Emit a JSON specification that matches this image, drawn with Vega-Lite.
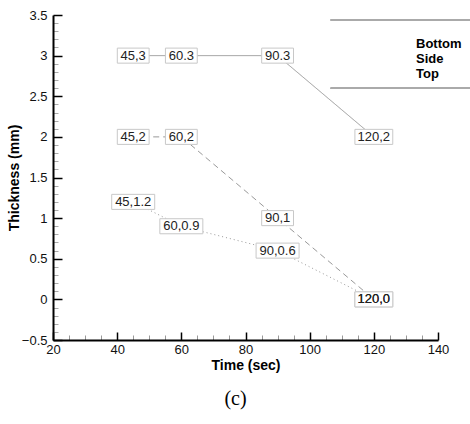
{
  "$schema": "https://vega.github.io/schema/vega-lite/v6.json",
  "width": 385,
  "height": 325,
  "autosize": {"type": "none"},
  "padding": {"left": 53, "top": 15, "right": 32, "bottom": 84},
  "background": "white",
  "config": {
    "view": {"stroke": null},
    "font": "Liberation Sans",
    "axis": {"grid": false}
  },
  "title": {
    "text": "(c)",
    "orient": "bottom",
    "font": "Liberation Serif",
    "fontSize": 20,
    "fontWeight": "normal",
    "color": "black",
    "offset": 17,
    "dx": -10
  },
  "data": {
    "values": [
      {"series": "Bottom", "time": 45, "thickness": 3, "label": "45,3"},
      {"series": "Bottom", "time": 60, "thickness": 3, "label": "60.3"},
      {"series": "Bottom", "time": 90, "thickness": 3, "label": "90.3"},
      {"series": "Bottom", "time": 120, "thickness": 2, "label": "120,2"},
      {"series": "Side", "time": 45, "thickness": 2, "label": "45,2"},
      {"series": "Side", "time": 60, "thickness": 2, "label": "60,2"},
      {"series": "Side", "time": 90, "thickness": 1, "label": "90,1"},
      {"series": "Side", "time": 120, "thickness": 0, "label": "120,0"},
      {"series": "Top", "time": 45, "thickness": 1.2, "label": "45,1.2"},
      {"series": "Top", "time": 60, "thickness": 0.9, "label": "60,0.9"},
      {"series": "Top", "time": 90, "thickness": 0.6, "label": "90,0.6"},
      {"series": "Top", "time": 120, "thickness": 0, "label": "120,0"}
    ]
  },
  "encoding": {
    "x": {
      "field": "time",
      "type": "quantitative",
      "scale": {"domain": [20, 140], "nice": false, "zero": false},
      "axis": {
        "title": "Time (sec)",
        "titleFont": "Liberation Sans",
        "titleFontSize": 14,
        "titleFontWeight": "bold",
        "titleColor": "black",
        "titlePadding": 2,
        "values": [20,25,30,35,40,45,50,55,60,65,70,75,80,85,90,95,100,105,110,115,120,125,130,135,140],
        "format": "~g",
        "labelExpr": "datum.value % 20 === 0 ? datum.label : ''",
        "labelFontSize": 13,
        "labelColor": "#111",
        "labelPadding": 11,
        "labelFlush": false,
        "domainColor": "black",
        "domainWidth": 2,
        "tickSize": {"condition": {"test": "datum.value % 20 === 0", "value": -8}, "value": -5},
        "tickColor": {"condition": {"test": "datum.value % 20 === 0", "value": "black"}, "value": "#999"},
        "tickWidth": {"condition": {"test": "datum.value % 20 === 0", "value": 1.5}, "value": 1}
      }
    },
    "y": {
      "field": "thickness",
      "type": "quantitative",
      "scale": {"domain": [-0.5, 3.5], "nice": false, "zero": false},
      "axis": {
        "title": "Thickness (mm)",
        "titleFont": "Liberation Sans",
        "titleFontSize": 14,
        "titleFontWeight": "bold",
        "titleColor": "black",
        "titlePadding": 0,
        "values": [-0.5,-0.4,-0.3,-0.2,-0.1,0,0.1,0.2,0.3,0.4,0.5,0.6,0.7,0.8,0.9,1,1.1,1.2,1.3,1.4,1.5,1.6,1.7,1.8,1.9,2,2.1,2.2,2.3,2.4,2.5,2.6,2.7,2.8,2.9,3,3.1,3.2,3.3,3.4,3.5],
        "format": "~g",
        "labelExpr": "abs(round(datum.value * 10) % 5) === 0 ? datum.label : ''",
        "labelFontSize": 13,
        "labelColor": "#111",
        "labelPadding": 15,
        "labelFlush": false,
        "domainColor": "black",
        "domainWidth": 2,
        "tickSize": {"condition": {"test": "abs(round(datum.value * 10) % 5) === 0", "value": -9}, "value": -5},
        "tickColor": {"condition": {"test": "abs(round(datum.value * 10) % 5) === 0", "value": "black"}, "value": "#aaa"},
        "tickWidth": {"condition": {"test": "abs(round(datum.value * 10) % 5) === 0", "value": 1.5}, "value": 1}
      }
    }
  },
  "layer": [
    {
      "mark": {"type": "line", "color": "#999", "strokeWidth": 1},
      "encoding": {
        "detail": {"field": "series"},
        "strokeDash": {
          "field": "series",
          "type": "nominal",
          "scale": {"domain": ["Bottom", "Side", "Top"], "range": [[1, 0], [6, 4], [1, 3]]},
          "legend": {
            "title": null,
            "orient": "none",
            "legendX": 350,
            "legendY": 22,
            "symbolType": "stroke",
            "symbolSize": 0,
            "symbolStrokeWidth": 0,
            "symbolOpacity": 0,
            "labelOffset": 0,
            "labelFont": "Liberation Sans",
            "labelFontSize": 13,
            "labelFontWeight": "bold",
            "labelColor": "black",
            "rowPadding": 1
          }
        }
      }
    },
    {
      "mark": {"type": "rule", "color": "#aaa", "strokeWidth": 1.5, "clip": false},
      "encoding": {
        "x": {"datum": 106.6},
        "x2": {"datum": 150},
        "y": {"datum": 3.44}
      }
    },
    {
      "mark": {"type": "rule", "color": "#aaa", "strokeWidth": 1.5, "clip": false},
      "encoding": {
        "x": {"datum": 106.6},
        "x2": {"datum": 150},
        "y": {"datum": 2.6}
      }
    },
    {
      "transform": [{"calculate": "length(datum.label)", "as": "len"}],
      "mark": {"type": "point", "filled": true, "fill": "white", "stroke": "#c8c8c8", "strokeWidth": 1, "opacity": 1, "size": 1849},
      "encoding": {
        "shape": {
          "field": "len",
          "type": "ordinal",
          "scale": {"domain": [4, 5, 6], "range": ["M-0.74,-0.35H0.74V0.35H-0.74Z", "M-0.88,-0.35H0.88V0.35H-0.88Z", "M-1,-0.35H1V0.35H-1Z"]},
          "legend": null
        }
      }
    },
    {
      "mark": {"type": "text", "font": "Liberation Sans", "fontSize": 13, "color": "#222", "baseline": "middle", "align": "center"},
      "encoding": {
        "text": {"field": "label"}
      }
    }
  ]
}
